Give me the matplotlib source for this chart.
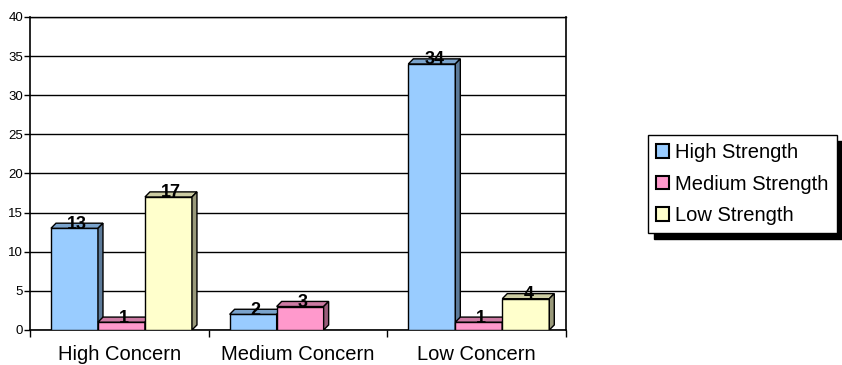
import matplotlib
matplotlib.use('Agg')
import matplotlib.pyplot as plt
from matplotlib.patches import Patch, Polygon

plt.rcParams['font.family'] = ['Liberation Sans', 'DejaVu Sans']

categories = ['High Concern', 'Medium Concern', 'Low Concern']
series_names = ['High Strength', 'Medium Strength', 'Low Strength']
high_strength = [13, 2, 34]
medium_strength = [1, 3, 1]
low_strength = [17, 0, 4]

front_colors = ['#99CCFF', '#FF99CC', '#FFFFCC']
top_colors = ['#7AA3CC', '#CC7AA3', '#CCCCA3']
side_colors = ['#5C7A99', '#995C7A', '#99997A']

fig = plt.figure(figsize=(8.42, 3.65), dpi=100)
ax = fig.add_axes([30 / 842, 1 - 330 / 365, 536 / 842, 313 / 365])

bar_w = 0.263
dx = 0.028
dy = 0.65

for s, vals in enumerate([high_strength, medium_strength, low_strength]):
	for i, v in enumerate(vals):
		if v == 0:
			continue
		x0 = i + 0.5 + (s - 1) * bar_w - bar_w / 2 + 0.012
		x1 = x0 + bar_w
		ax.bar(x0, v, width=bar_w, align='edge', color=front_colors[s],
			edgecolor='black', linewidth=1.0, zorder=3)
		top = Polygon([(x0, v), (x0 + dx, v + dy), (x1 + dx, v + dy), (x1, v)],
			closed=True, facecolor=top_colors[s], edgecolor='black', linewidth=1.0, zorder=3)
		side = Polygon([(x1, 0), (x1 + dx, dy), (x1 + dx, v + dy), (x1, v)],
			closed=True, facecolor=side_colors[s], edgecolor='black', linewidth=1.0, zorder=3)
		ax.add_patch(top)
		ax.add_patch(side)
		ax.text((x0 + x1) / 2 + dx / 2, v + dy * 0.8, str(v), ha='center', va='center',
			fontsize=13, fontweight='bold', zorder=5)

ax.set_xlim(0, 3)
ax.set_ylim(0, 40)
ax.set_yticks(range(0, 41, 5))
ax.tick_params(axis='y', labelsize=9.5, length=4, width=1, pad=1)
ax.set_xticks([0, 1, 2, 3])
ax.set_xticks([0.5, 1.5, 2.5], minor=True)
ax.set_xticklabels([])
ax.set_xticklabels(categories, minor=True)
ax.tick_params(axis='x', which='major', length=5, width=1)
ax.tick_params(axis='x', which='minor', length=0, labelsize=14.5, pad=11)

ax.yaxis.grid(True, color='black', linewidth=1.0, zorder=0)
ax.set_axisbelow(True)
for side_name in ['left', 'bottom', 'right']:
	ax.spines[side_name].set_linewidth(1.2)
ax.spines['top'].set_linewidth(1.0)

handles = [Patch(facecolor=c, edgecolor='black', linewidth=1.5) for c in front_colors]
fig.legend(handles, series_names, loc='upper left',
	bbox_to_anchor=(648 / 842, 1 - 135 / 365), fontsize=14.5,
	fancybox=False, edgecolor='black', framealpha=1,
	shadow={'ox': 4, 'oy': -4, 'color': 'black', 'alpha': 1, 'shade': 0},
	handlelength=0.65, handleheight=0.65, handletextpad=0.3,
	labelspacing=0.62, borderpad=0.4, borderaxespad=0)

fig.savefig('out.png', dpi=100)
